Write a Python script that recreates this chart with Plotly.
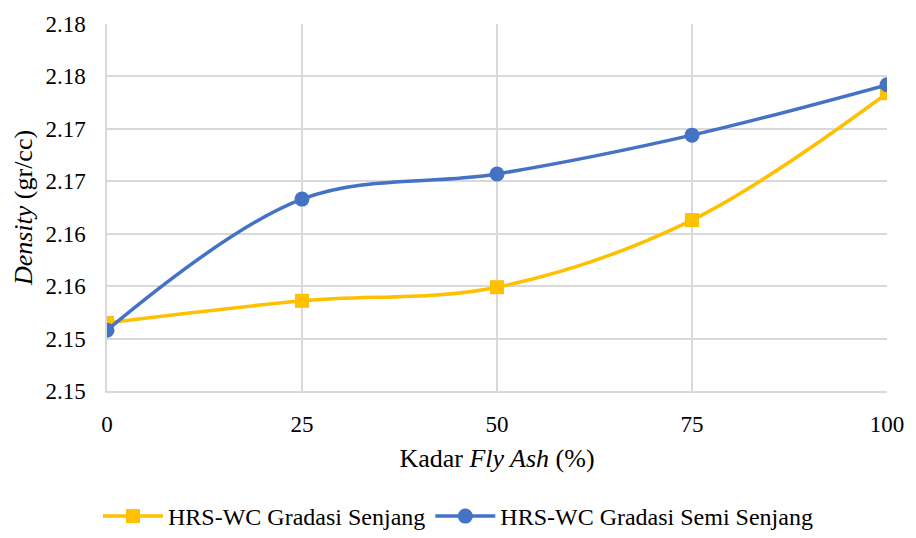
import plotly.graph_objects as go

# Fly ash content (%) and measured density (gr/cc)
kadar_fly_ash = [0, 25, 50, 75, 100]
density_senjang = [2.1515, 2.1536, 2.1549, 2.1613, 2.1734]
density_semi_senjang = [2.1508, 2.1633, 2.1657, 2.1694, 2.1742]

y_tick_vals = [2.145, 2.150, 2.155, 2.160, 2.165, 2.170, 2.175, 2.180]
y_tick_text = ["2.15", "2.15", "2.16", "2.16", "2.17", "2.17", "2.18", "2.18"]
x_tick_vals = [0, 25, 50, 75, 100]

FONT = "Liberation Serif"
GRID = "#D9D9D9"

fig = go.Figure()
fig.add_trace(go.Scatter(
    x=kadar_fly_ash, y=density_senjang, name="HRS-WC Gradasi Senjang",
    mode="lines+markers", line=dict(color="#FFC000", width=3.5, shape="spline", smoothing=1),
    marker=dict(symbol="square", size=14, color="#FFC000"),
))
fig.add_trace(go.Scatter(
    x=kadar_fly_ash, y=density_semi_senjang, name="HRS-WC Gradasi Semi Senjang",
    mode="lines+markers", line=dict(color="#4472C4", width=3.5, shape="spline", smoothing=1),
    marker=dict(symbol="circle", size=15, color="#4472C4"),
))

fig.update_layout(
    width=916, height=538,
    margin=dict(l=107, r=20, t=21, b=147),
    paper_bgcolor="white", plot_bgcolor="white",
    font=dict(family=FONT, size=23, color="#000000"),
    showlegend=True,
    legend=dict(orientation="h", x=0.5, xanchor="center", xref="container",
                y=0.04, yanchor="middle", yref="container",
                font=dict(family=FONT, size=24), itemwidth=60, traceorder="normal"),
    xaxis=dict(
        range=[0, 100], tickvals=x_tick_vals, ticktext=[str(v) for v in x_tick_vals],
        showgrid=True, gridcolor=GRID, gridwidth=1.5,
        showline=True, linecolor=GRID, linewidth=1.5, zeroline=False,
        ticks="", ticklabelstandoff=12, tickfont=dict(family=FONT, size=23),
        title=dict(text="Kadar <i>Fly Ash</i> (%)", font=dict(family=FONT, size=26), standoff=12),
    ),
    yaxis=dict(
        range=[2.145, 2.180], tickvals=y_tick_vals, ticktext=y_tick_text,
        showgrid=True, gridcolor=GRID, gridwidth=1.5,
        showline=True, linecolor=GRID, linewidth=1.5, zeroline=False,
        ticks="", ticklabelstandoff=15, tickfont=dict(family=FONT, size=23),
        title=dict(text="<i>Density</i> (gr/cc)", font=dict(family=FONT, size=26), standoff=5),
    ),
)

fig.write_html("out.html")
